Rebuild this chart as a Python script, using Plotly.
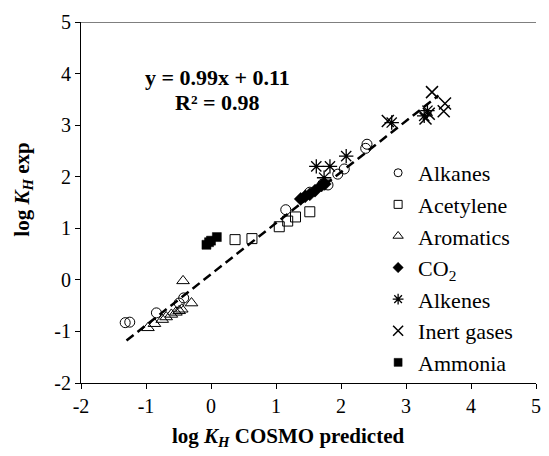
import plotly.graph_objects as go

# ---- data ----
alk_x = [-1.32, -1.25, -0.84, -0.49, -0.42, 1.15, 1.52, 1.72, 1.80, 1.95, 2.05, 2.38, 2.40]
alk_y = [-0.83, -0.82, -0.64, -0.45, -0.35, 1.36, 1.70, 1.86, 1.84, 2.05, 2.15, 2.55, 2.63]

acet_x = [0.37, 0.63, 1.05, 1.18, 1.30, 1.52]
acet_y = [0.78, 0.80, 1.03, 1.14, 1.22, 1.32]

arom_x = [-0.97, -0.87, -0.75, -0.69, -0.61, -0.54, -0.49, -0.45, -0.43, -0.30]
arom_y = [-0.93, -0.85, -0.77, -0.72, -0.67, -0.63, -0.60, -0.57, -0.02, -0.45]

co2_x = [1.38, 1.45, 1.52, 1.60, 1.70, 1.75]
co2_y = [1.57, 1.62, 1.66, 1.73, 1.83, 1.86]

alke_x = [1.62, 1.83, 1.74, 2.08, 2.78, 3.28, 3.33]
alke_y = [2.20, 2.20, 1.98, 2.40, 3.05, 3.18, 3.28]

inert_x = [2.72, 3.30, 3.35, 3.40, 3.60, 3.58]
inert_y = [3.08, 3.13, 3.22, 3.64, 3.42, 3.27]

amm_x = [-0.07, -0.03, 0.00, 0.09]
amm_y = [0.68, 0.73, 0.76, 0.83]

slope, intercept = 0.99, 0.11
fit_x = [-1.3, 3.5]
fit_y = [slope * v + intercept for v in fit_x]

x_ticks = [-2, -1, 0, 1, 2, 3, 4, 5]
y_ticks = [-2, -1, 0, 1, 2, 3, 4, 5]

FONT = "Liberation Serif"

fig = go.Figure()

fig.add_trace(go.Scatter(x=fit_x, y=fit_y, mode="lines", showlegend=False,
                         line=dict(color="black", width=2.5, dash="9px,5px")))

def add(name, xs, ys, symbol, size, lw, leg_size):
    # data trace
    fig.add_trace(go.Scatter(
        x=xs, y=ys, mode="markers", name=name, legendgroup=name, showlegend=False,
        marker=dict(symbol=symbol, size=size, color="black",
                    line=dict(color="black", width=lw))))
    # legend entry (smaller symbol, as in the reference)
    fig.add_trace(go.Scatter(
        x=[None], y=[None], mode="markers", name=name, legendgroup=name,
        marker=dict(symbol=symbol, size=leg_size, color="black",
                    line=dict(color="black", width=lw))))

add("Alkanes", alk_x, alk_y, "circle-open", 10, 1.0, 8)
add("Acetylene", acet_x, acet_y, "square-open", 10, 1.0, 8)
add("Aromatics", arom_x, arom_y, "triangle-up-open", 11, 1.0, 9)
add("CO<sub>2</sub>", co2_x, co2_y, "diamond", 10, 0.5, 8)
add("Alkenes", alke_x, alke_y, "asterisk-open", 12, 1.3, 9)
add("Inert gases", inert_x, inert_y, "x-thin-open", 12, 1.5, 10)
add("Ammonia", amm_x, amm_y, "square", 9, 0.5, 8)

fig.update_layout(
    width=549, height=456,
    margin=dict(l=81, r=8, t=22, b=73),
    plot_bgcolor="white", paper_bgcolor="white",
    font=dict(family=FONT, size=20, color="black"),
    showlegend=True,
    legend=dict(x=0.653, y=0.64, xanchor="left", yanchor="top",
                font=dict(family=FONT, size=22, color="black"),
                tracegroupgap=0, itemwidth=30,
                bgcolor="rgba(0,0,0,0)"),
    xaxis=dict(range=[-2, 5], tickvals=x_ticks, ticktext=[str(v) for v in x_ticks],
               showgrid=False, zeroline=False, showline=True, linecolor="black",
               linewidth=1, ticks="outside", ticklen=5, tickcolor="black",
               tickfont=dict(family=FONT, size=20)),
    yaxis=dict(range=[-2, 5], tickvals=y_ticks, ticktext=[str(v) for v in y_ticks],
               showgrid=False, zeroline=False, showline=True, linecolor="black",
               linewidth=1, ticks="outside", ticklen=5, tickcolor="black",
               tickfont=dict(family=FONT, size=20)),
)

# top border line at y = 5
fig.add_shape(type="line", xref="paper", yref="y", x0=0, x1=1, y0=5, y1=5,
              line=dict(color="#555555", width=1.5))

fig.add_annotation(xref="paper", yref="paper", x=0.30, y=0.845, showarrow=False,
                   xanchor="center", yanchor="middle",
                   text="<b>y = 0.99x + 0.11</b>", font=dict(family=FONT, size=22))
fig.add_annotation(xref="paper", yref="paper", x=0.30, y=0.776, showarrow=False,
                   xanchor="center", yanchor="middle",
                   text="<b>R² = 0.98</b>", font=dict(family=FONT, size=22))

fig.add_annotation(xref="paper", yref="paper", x=0.455, y=-0.15, showarrow=False,
                   xanchor="center", yanchor="middle",
                   text="<b>log <i>K<sub>H</sub></i> COSMO predicted</b>",
                   font=dict(family=FONT, size=21))
fig.add_annotation(xref="paper", yref="paper", x=-0.128, y=0.535, showarrow=False,
                   xanchor="center", yanchor="middle",
                   textangle=-90,
                   text="<b>log <i>K<sub>H</sub></i> exp</b>",
                   font=dict(family=FONT, size=21))

fig.write_html("out.html")
